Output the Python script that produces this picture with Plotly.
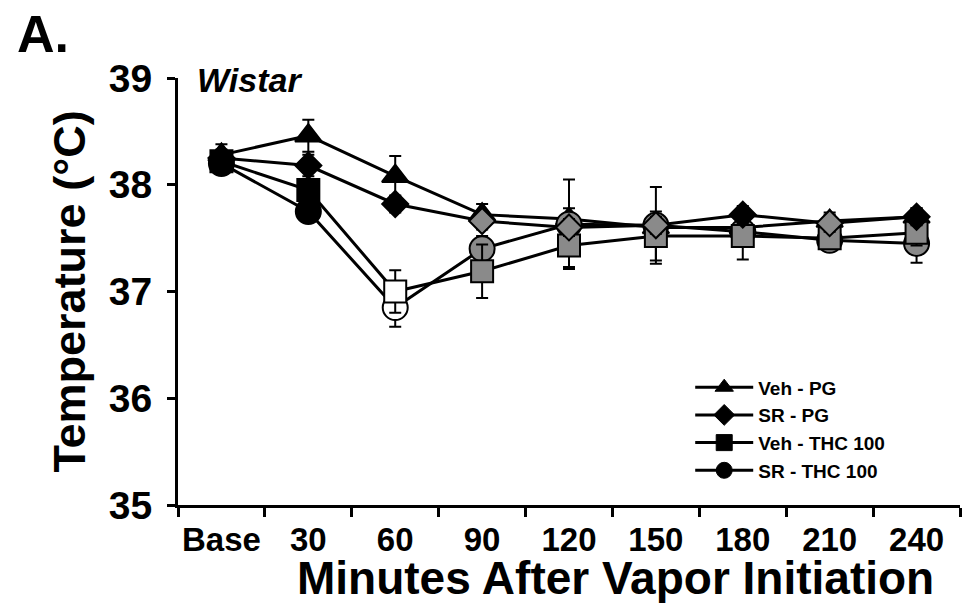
import plotly.graph_objects as go

# Time points (minutes after vapor initiation)
timepoints = ["Base", "30", "60", "90", "120", "150", "180", "210", "240"]

# Mean body temperature (°C) per group
veh_pg = [38.28, 38.46, 38.08, 37.72, 37.68, 37.60, 37.60, 37.66, 37.70]
sr_pg = [38.25, 38.18, 37.82, 37.66, 37.60, 37.62, 37.72, 37.64, 37.70]
veh_thc = [38.22, 37.95, 37.00, 37.19, 37.43, 37.52, 37.52, 37.50, 37.55]
sr_thc = [38.20, 37.75, 36.85, 37.40, 37.63, 37.62, 37.56, 37.48, 37.45]

# SEM per group
veh_pg_sem = [0.10, 0.15, 0.19, 0.10, 0.10, 0.10, 0.10, 0.08, 0.08]
sr_pg_sem = [0.08, 0.10, 0.08, 0.08, 0.08, 0.08, 0.08, 0.08, 0.08]
veh_thc_sem = [0.08, 0.10, 0.20, 0.25, 0.20, 0.23, 0.22, 0.10, 0.12]
sr_thc_sem = [0.08, 0.10, 0.18, 0.12, 0.42, 0.36, 0.12, 0.10, 0.18]

# Marker fill per point: black = baseline-like, grey / white = changed
BK, GR, WH = "#000000", "#8a8a8a", "#ffffff"
veh_pg_fill = [BK] * 9
sr_pg_fill = [BK, BK, BK, GR, GR, GR, BK, GR, BK]
veh_thc_fill = [BK, BK, WH, GR, GR, GR, GR, GR, GR]
sr_thc_fill = [BK, BK, WH, GR, GR, GR, GR, GR, GR]

groups = [
    # name, values, sem, fill, symbol, size
    ("Veh - PG", veh_pg, veh_pg_sem, veh_pg_fill, "triangle-up", 23),
    ("SR - THC 100", sr_thc, sr_thc_sem, sr_thc_fill, "circle", 25),
    ("Veh - THC 100", veh_thc, veh_thc_sem, veh_thc_fill, "square", 22),
    ("SR - PG", sr_pg, sr_pg_sem, sr_pg_fill, "diamond", 20),
]
legend_order = ["Veh - PG", "SR - PG", "Veh - THC 100", "SR - THC 100"]

FONT = "Liberation Sans, Arial, sans-serif"

fig = go.Figure()

for name, vals, sem, fill, sym, size in groups:
    fig.add_trace(go.Scatter(
        x=timepoints, y=vals, mode="lines+markers", name=name,
        showlegend=False,
        line=dict(color="black", width=3),
        marker=dict(symbol=sym, size=size, color=fill,
                    line=dict(color="black", width=2)),
        error_y=dict(type="data", array=sem, visible=True,
                     color="black", thickness=2, width=6),
    ))

# Legend entries with solid black symbols
sym_of = {g[0]: g[4] for g in groups}
for name in legend_order:
    fig.add_trace(go.Scatter(
        x=[None], y=[None], mode="lines+markers", name=name,
        line=dict(color="black", width=3),
        marker=dict(symbol=sym_of[name], size=16, color="black",
                    line=dict(color="black", width=1)),
    ))

fig.update_layout(
    width=962, height=603,
    margin=dict(l=178, r=2, t=78, b=98, autoexpand=False),
    paper_bgcolor="white", plot_bgcolor="white",
    font=dict(family=FONT, color="black", weight="bold"),
    showlegend=True,
    legend=dict(
        x=0.655, y=0.32, xanchor="left", yanchor="top",
        font=dict(size=19, family=FONT, weight="bold"),
        bgcolor="rgba(0,0,0,0)", tracegroupgap=0, itemwidth=58,
    ),
    xaxis=dict(
        type="category", range=[-0.5, 8.5],
        showline=True, linecolor="black", linewidth=3,
        ticks="outside", tickson="boundaries", ticklen=9, tickwidth=3,
        tickcolor="black", showgrid=False, zeroline=False,
        tickangle=0, ticklabelstandoff=3,
        tickfont=dict(size=33, family=FONT, weight="bold"),
    ),
    yaxis=dict(
        range=[35, 39], tickmode="array", tickvals=[35, 36, 37, 38, 39],
        showline=True, linecolor="black", linewidth=3,
        ticks="outside", ticklen=8, tickwidth=3, tickcolor="black",
        showgrid=False, zeroline=False, ticklabelstandoff=7,
        tickfont=dict(size=39, family=FONT, weight="bold"),
        title=dict(text="Temperature (°C)",
                   font=dict(size=45, family=FONT, weight="bold"),
                   standoff=10),
    ),
)

# x-axis title, placed as a free label under the tick labels
fig.add_annotation(
    text="Minutes After Vapor Initiation", xref="paper", yref="paper",
    x=0.560, y=-0.2375, xanchor="center", yanchor="bottom", showarrow=False,
    font=dict(size=46, family=FONT, weight="bold"),
)
fig.add_annotation(
    text="A.", xref="paper", yref="paper",
    x=-0.208, y=1.175, xanchor="left", yanchor="top", showarrow=False,
    font=dict(size=52, family=FONT, weight="bold"),
)
fig.add_annotation(
    text="<i>Wistar</i>", xref="paper", yref="paper",
    x=0.022, y=1.045, xanchor="left", yanchor="top", showarrow=False,
    font=dict(size=34, family=FONT, weight="bold"),
)

fig.write_html("out.html")
